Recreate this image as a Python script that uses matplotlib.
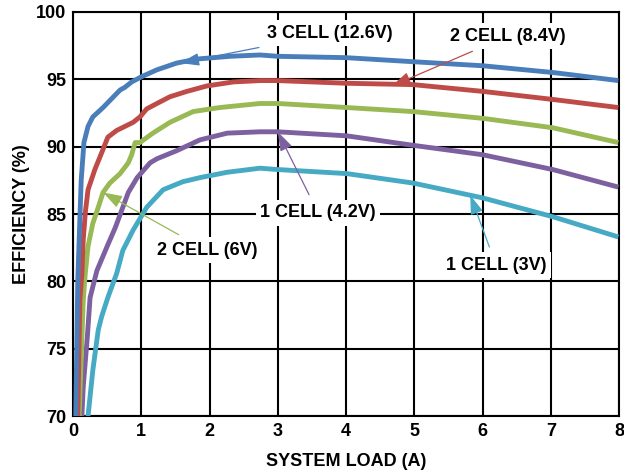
import numpy as np
import matplotlib
matplotlib.use("Agg")
import matplotlib.pyplot as plt

plt.rcParams['font.family'] = ['Liberation Sans', 'DejaVu Sans']
plt.rcParams['font.weight'] = 'bold'

# efficiency curves
x_3c = [0.04, 0.07, 0.12, 0.16, 0.22, 0.29, 0.44, 0.69, 0.76, 0.86, 1.01, 1.23, 1.52, 1.82, 2.3, 2.74, 3.0, 4.0, 4.98, 6.0, 7.03, 7.99]
y_3c = [70, 80.1, 87.5, 90.3, 91.5, 92.2, 92.9, 94.2, 94.4, 94.8, 95.2, 95.7, 96.2, 96.5, 96.7, 96.8, 96.7, 96.6, 96.3, 96.0, 95.5, 94.9]

x_2c84 = [0.07, 0.10, 0.13, 0.15, 0.18, 0.22, 0.32, 0.44, 0.51, 0.64, 0.88, 0.98, 1.08, 1.23, 1.42, 1.67, 1.96, 2.35, 2.74, 3.0, 4.01, 4.98, 6.0, 7.03, 7.99]
y_2c84 = [70, 78.6, 80.6, 83.1, 85.1, 86.8, 88.3, 89.8, 90.7, 91.2, 91.8, 92.2, 92.8, 93.2, 93.7, 94.1, 94.5, 94.8, 94.9, 94.9, 94.7, 94.6, 94.1, 93.5, 92.9]

x_2c6 = [0.09, 0.15, 0.18, 0.22, 0.29, 0.37, 0.44, 0.54, 0.69, 0.81, 0.86, 0.91, 0.98, 1.17, 1.42, 1.76, 2.15, 2.74, 3.0, 4.01, 4.98, 6.0, 7.03, 7.99]
y_2c6 = [70, 78.6, 80.6, 82.6, 84.3, 85.5, 86.6, 87.3, 88.0, 88.8, 89.4, 90.3, 90.3, 91.0, 91.8, 92.6, 92.9, 93.2, 93.2, 92.9, 92.6, 92.1, 91.4, 90.3]

x_1c42 = [0.13, 0.15, 0.21, 0.25, 0.35, 0.50, 0.62, 0.73, 0.81, 0.94, 1.13, 1.23, 1.52, 1.86, 2.26, 2.74, 3.0, 4.01, 4.98, 6.0, 7.03, 7.99]
y_1c42 = [70, 72.2, 75.9, 78.8, 80.8, 82.6, 84.0, 85.5, 86.6, 87.7, 88.8, 89.1, 89.7, 90.5, 91.0, 91.1, 91.1, 90.8, 90.1, 89.4, 88.3, 87.0]

x_1c3 = [0.22, 0.29, 0.37, 0.42, 0.51, 0.64, 0.73, 0.88, 1.08, 1.32, 1.61, 1.86, 2.26, 2.74, 3.0, 4.01, 4.98, 6.0, 7.03, 7.99]
y_1c3 = [70, 73.4, 76.4, 77.4, 78.8, 80.6, 82.3, 83.8, 85.5, 86.8, 87.4, 87.7, 88.1, 88.4, 88.3, 88.0, 87.3, 86.2, 84.8, 83.3]

fig = plt.figure(figsize=(6.24, 4.73), dpi=100)
ax = fig.add_axes([0.117, 0.12, 0.875, 0.855])

c_blue = "#4A7EBB"
c_red = "#BE4B48"
c_green = "#98B954"
c_purple = "#7D60A0"
c_cyan = "#46AAC5"

lw = 3.5
ax.plot(x_1c3, y_1c3, color=c_cyan, lw=lw, solid_capstyle='butt', zorder=3)
ax.plot(x_1c42, y_1c42, color=c_purple, lw=lw, solid_capstyle='butt', zorder=3)
ax.plot(x_2c6, y_2c6, color=c_green, lw=lw, solid_capstyle='butt', zorder=3)
ax.plot(x_2c84, y_2c84, color=c_red, lw=lw, solid_capstyle='butt', zorder=3)
ax.plot(x_3c, y_3c, color=c_blue, lw=lw, solid_capstyle='butt', zorder=3)

ax.set_xlim(0, 8)
ax.set_ylim(70, 100)
ax.set_xticks(range(0, 9))
ax.set_yticks(range(70, 101, 5))
ax.grid(True, color="black", lw=1.5, zorder=1)
ax.set_axisbelow(True)
for s in ax.spines.values():
    s.set_color("black")
    s.set_linewidth(1.5)
ax.tick_params(length=0, labelsize=13, pad=5)
for lab in ax.get_xticklabels() + ax.get_yticklabels():
    lab.set_fontweight('bold')

ax.set_xlabel("SYSTEM LOAD (A)", fontsize=13, fontweight='bold', labelpad=9)
ax.set_ylabel("EFFICIENCY (%)", fontsize=13, fontweight='bold', labelpad=4)

bbox = dict(boxstyle="square,pad=0.25", fc="white", ec="none")

def label(text, xy, xytext, col):
    ax.annotate(text, xy=xy, xytext=xytext, fontsize=13, fontweight='bold',
                ha='center', va='center', bbox=bbox, zorder=5,
                arrowprops=dict(arrowstyle="-|>,head_length=0.9,head_width=0.3",
                                color=col, lw=0.9, shrinkA=4, shrinkB=0))

label("3 CELL (12.6V)", (1.57, 96.2), (3.77, 98.4), c_blue)
label("2 CELL (8.4V)", (4.67, 94.5), (6.37, 98.2), c_red)
label("1 CELL (4.2V)", (3.0, 91.1), (3.59, 85.1), c_purple)
label("2 CELL (6V)", (0.44, 86.6), (1.96, 82.3), c_green)
label("1 CELL (3V)", (5.82, 86.4), (6.2, 81.2), c_cyan)

plt.savefig("out.png", dpi=100)
